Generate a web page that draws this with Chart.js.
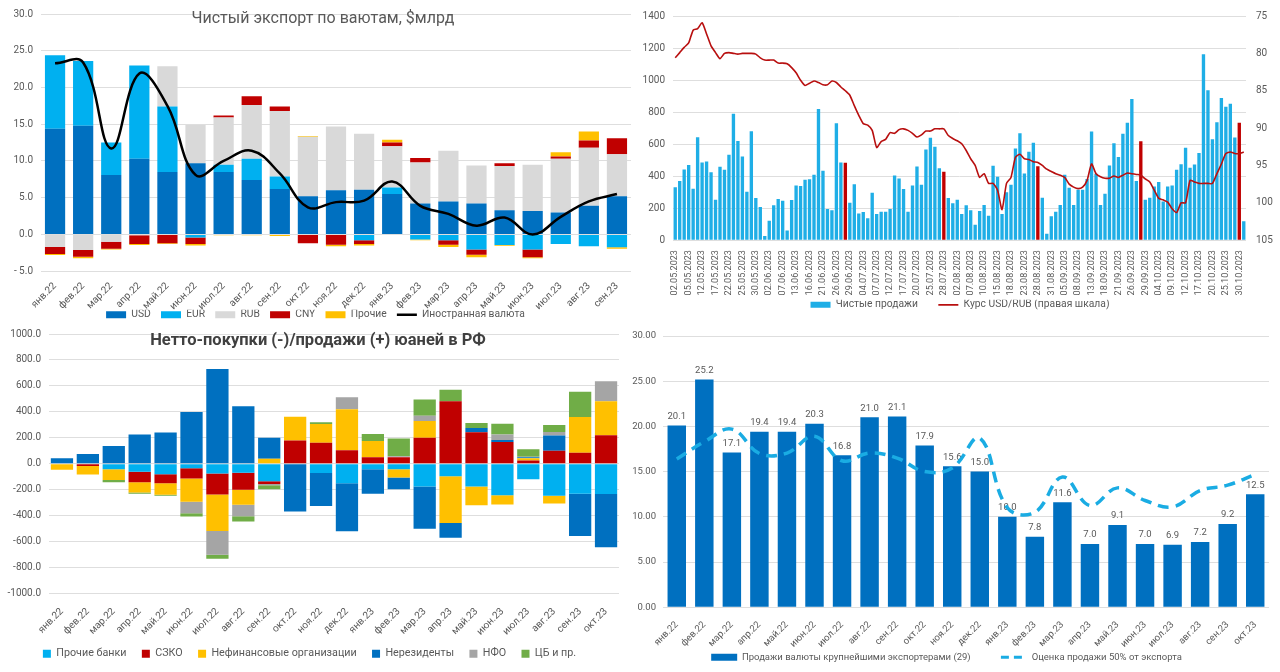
<!DOCTYPE html>
<html>
<head>
<meta charset="utf-8">
<script src="https://cdn.jsdelivr.net/npm/chart.js@4.4.0/dist/chart.umd.min.js"></script>
<style>
  body { margin: 0; background: #fff; width: 1280px; height: 672px; overflow: hidden; font-family: Roboto, sans-serif; }
  .box { position: absolute; }
  #b1 { left: 0; top: 0; width: 640px; height: 330px; }
  #b2 { left: 640px; top: 0; width: 640px; height: 320px; }
  #b3 { left: 0; top: 320px; width: 640px; height: 349px; }
  #b4 { left: 624px; top: 320px; width: 656px; height: 352px; }
  .title { position: absolute; width: 640px; text-align: center; white-space: nowrap; }
  #t1 { left: 3px; top: 8px; font-size: 16px; line-height: 20px; color: #595959; }
  #t3 { left: -2px; top: 330px; font-size: 16.5px; line-height: 20px; font-weight: bold; color: #404040; }
</style>
</head>
<body>
<div class="box" id="b1"><canvas id="c1"></canvas></div>
<div class="box" id="b2"><canvas id="c2"></canvas></div>
<div class="box" id="b3"><canvas id="c3"></canvas></div>
<div class="box" id="b4"><canvas id="c4"></canvas></div>
<div class="title" id="t1">Чистый экспорт по ваютам, $млрд</div>
<div class="title" id="t3">Нетто-покупки (-)/продажи (+) юаней в РФ</div>
<script>
// --- top left: net export by currency
const months1 = ['янв.22','фев.22','мар.22','апр.22','май.22','июн.22','июл.22','авг.22','сен.22','окт.22','ноя.22','дек.22',
  'янв.23','фев.23','мар.23','апр.23','май.23','июн.23','июл.23','авг.23','сен.23'];
const usd = [14.4, 14.8, 8.1, 10.3, 8.5, 9.7, 8.5, 7.4, 6.2, 5.2, 6.0, 6.1, 5.5, 4.2, 4.5, 4.2, 3.3, 3.2, 3.0, 3.9, 5.2];
const eur = [10.0, 8.8, 4.4, 12.7, 8.9, -0.4, 1.0, 2.9, 1.7, 0, 0, -0.8, 0.9, -0.7, -0.8, -2.05, -1.45, -2.05, -1.3, -1.6, -1.75];
const rub = [-1.7, -2.1, -1.0, -0.1, 5.5, 5.2, 6.4, 7.3, 8.9, 8.1, 8.7, 7.6, 5.6, 5.6, 6.9, 5.2, 6.0, 6.3, 7.3, 7.9, 5.7];
const cny = [-0.95, -0.95, -0.95, -1.2, -1.2, -0.9, 0.3, 1.2, 0.6, -1.2, -1.4, -0.5, 0.5, 0.6, -0.6, -0.7, 0.4, -1.05, 0.3, 1.0, 2.2];
const other = [-0.15, -0.2, -0.1, -0.15, -0.1, -0.2, -0.1, -0.1, -0.2, 0.1, -0.2, -0.2, 0.4, -0.1, -0.3, -0.35, -0.1, -0.15, 0.6, 1.2, -0.2];
const fxTotal = [23.3, 23.4, 11.7, 21.9, 17.5, 8.1, 10.0, 11.4, 8.3, 3.7, 4.4, 4.6, 7.2, 3.9, 2.8, 1.2, 2.3, 0.0, 2.4, 4.5, 5.5];

// --- top right: daily net sales and USD/RUB
const days = [
  '02.05.2023','03.05.2023','04.05.2023','05.05.2023','10.05.2023','11.05.2023','12.05.2023','15.05.2023','16.05.2023','17.05.2023',
  '18.05.2023','19.05.2023','22.05.2023','23.05.2023','24.05.2023','25.05.2023','26.05.2023','29.05.2023','30.05.2023','31.05.2023',
  '01.06.2023','02.06.2023','05.06.2023','06.06.2023','07.06.2023','08.06.2023','09.06.2023','13.06.2023','14.06.2023','15.06.2023',
  '16.06.2023','19.06.2023','20.06.2023','21.06.2023','22.06.2023','23.06.2023','26.06.2023','27.06.2023','28.06.2023','29.06.2023','30.06.2023',
  '03.07.2023','04.07.2023','05.07.2023','06.07.2023','07.07.2023','10.07.2023','11.07.2023','12.07.2023','13.07.2023','14.07.2023',
  '17.07.2023','18.07.2023','19.07.2023','20.07.2023','21.07.2023','24.07.2023','25.07.2023','26.07.2023','27.07.2023','28.07.2023','31.07.2023',
  '01.08.2023','02.08.2023','03.08.2023','04.08.2023','07.08.2023','08.08.2023','09.08.2023','10.08.2023','11.08.2023','14.08.2023',
  '15.08.2023','16.08.2023','17.08.2023','18.08.2023','21.08.2023','22.08.2023','23.08.2023','24.08.2023','25.08.2023','28.08.2023',
  '29.08.2023','30.08.2023','31.08.2023',
  '01.09.2023','04.09.2023','05.09.2023','06.09.2023','07.09.2023','08.09.2023','11.09.2023','12.09.2023','13.09.2023','14.09.2023',
  '15.09.2023','18.09.2023','19.09.2023','20.09.2023','21.09.2023','22.09.2023','25.09.2023','26.09.2023','27.09.2023','28.09.2023','29.09.2023',
  '02.10.2023','03.10.2023','04.10.2023','05.10.2023','06.10.2023','09.10.2023','10.10.2023','11.10.2023','12.10.2023','13.10.2023',
  '16.10.2023','17.10.2023','18.10.2023','19.10.2023','20.10.2023','23.10.2023','24.10.2023','25.10.2023','26.10.2023','27.10.2023',
  '30.10.2023','31.10.2023'
];
const taxDays = ['28.06.2023', '28.07.2023', '28.08.2023', '28.09.2023', '30.10.2023'];
const netSales = [
  330, 370, 442, 470, 322, 643, 485, 492, 425, 253, 458, 440, 533, 790, 620, 523, 303, 680, 263, 207,
  27, 122, 218, 257, 247, 60, 251, 342, 338, 377, 380, 408, 819, 433, 195, 187, 730, 485, 483, 234, 350,
  166, 176, 137, 297, 164, 178, 178, 195, 404, 386, 320, 178, 342, 460, 346, 566, 639, 583, 450, 427, 263,
  230, 253, 164, 218, 187, 97, 183, 220, 153, 465, 396, 164, 299, 346, 572, 668, 417, 552, 608, 462, 265, 41, 149,
  178, 220, 409, 328, 220, 315, 315, 382, 678, 415, 220, 290, 467, 606, 519, 664, 734, 881, 369, 618, 253,
  265, 336, 363, 241, 336, 342, 440, 475, 577, 452, 473, 545, 1161, 937, 630, 736, 888, 834, 852, 641, 734, 118
];
const usdRub = [
  80.6, 79.9, 79.2, 78.6, 76.9, 76.7, 75.9, 77.4, 79.0, 79.9, 80.7, 80.0, 79.9, 80.0, 80.1, 80.0, 80.0, 80.0, 80.1, 80.6,
  80.9, 80.9, 80.9, 81.3, 81.3, 81.4, 81.9, 82.6, 83.6, 84.3, 84.0, 83.7, 83.9, 84.2, 84.2, 83.7, 83.9, 84.5, 85.0, 85.6, 87.0,
  88.3, 89.4, 89.6, 90.3, 92.6, 91.8, 91.5, 90.6, 90.7, 90.2, 90.1, 90.3, 90.7, 91.2, 90.9, 90.4, 90.4, 90.1, 90.1, 90.1, 91.0,
  91.4, 91.7, 92.1, 93.0, 94.1, 95.0, 96.6, 96.1, 97.4, 97.4, 98.3, 100.9, 97.4, 96.6, 93.9, 93.5, 94.1, 94.2, 94.5, 94.6, 95.0, 95.5, 95.8,
  96.1, 96.3, 96.6, 97.5, 97.9, 98.1, 97.9, 97.0, 94.8, 96.1, 96.5, 96.7, 96.7, 96.4, 96.6, 96.3, 96.0, 96.1, 96.2, 96.3, 96.8,
  97.2, 98.3, 99.4, 99.6, 99.9, 100.8, 101.3, 100.0, 100.0, 97.0, 97.2, 97.4, 97.4, 97.4, 97.4, 96.1, 94.8, 93.4, 93.2, 93.4, 93.4, 93.2
];

// --- bottom left: yuan net purchases/sales
const months2 = ['янв.22','фев.22','мар.22','апр.22','май.22','июн.22','июл.22','авг.22','сен.22','окт.22','ноя.22','дек.22',
  'янв.23','фев.23','мар.23','апр.23','май.23','июн.23','июл.23','авг.23','сен.23','окт.23'];
const otherBanks = [0, 0, -42, -62, -80, -35, -75, -68, -135, 0, -70, -150, -42, -42, -175, -95, -175, -243, -118, -245, -230, -232];
const szko = [0, -17, 0, -80, -70, -78, -162, -132, -20, 180, 162, 105, 50, 50, 200, 482, 243, 168, 25, 100, 85, 220];
const nonFin = [-45, -65, -83, -78, -88, -180, -280, -115, 40, 183, 145, 315, 125, -63, 130, -360, -145, -70, 18, -60, 275, 262];
const nonRes = [42, 75, 137, 225, 242, 400, 730, 443, 160, -367, -255, -370, -188, -90, -325, -115, 32, 15, 7, 118, -325, -410];
const nfo = [0, 0, 0, 0, 0, -88, -183, -88, -10, 0, 0, 92, 0, 8, 40, 0, 0, 42, 5, 27, 0, 155];
const cbr = [0, 0, -17, -10, -8, -25, -32, -42, -30, 0, 13, 0, 55, 137, 125, 88, 40, 83, 57, 55, 195, 0];

// --- bottom right: exporters' FX sales
const exporterSales = [20.1, 25.2, 17.1, 19.4, 19.4, 20.3, 16.8, 21.0, 21.1, 17.9, 15.6, 15.0, 10.0, 7.8, 11.6, 7.0, 9.1, 7.0, 6.9, 7.2, 9.2, 12.5];
const halfExport = [16.4, 18.3, 19.7, 17.0, 17.05, 18.9, 16.2, 17.05, 16.5, 15.0, 15.4, 18.7, 11.0, 10.5, 14.4, 11.25, 13.2, 11.8, 11.1, 12.9, 13.5, 14.7];

Chart.defaults.font.family = 'Roboto, sans-serif';
Chart.defaults.font.size = 10;
Chart.defaults.color = '#595959';
Chart.defaults.animation = false;
Chart.defaults.maintainAspectRatio = false;
Chart.defaults.plugins.tooltip.enabled = false;

const gridColor = '#DEDEDE';

// legend items in dataset order, spaced apart with trailing blanks
function spacedLabels(gap, tweak) {
  return chart => {
    const items = Chart.defaults.plugins.legend.labels.generateLabels(chart)
      .sort((a, b) => a.datasetIndex - b.datasetIndex);
    items.forEach((it, i) => {
      if (i < items.length - 1) it.text += ' '.repeat(gap);
      if (tweak) tweak(it);
    });
    return items;
  };
}

function yAxis(min, max, step, width, fmt, extra) {
  return Object.assign({
    min: min, max: max,
    border: { display: false },
    grid: { color: gridColor, drawTicks: false },
    ticks: { stepSize: step, padding: 8, callback: fmt },
    afterFit: s => { s.width = width; }
  }, extra || {});
}

// top left
new Chart(document.getElementById('c1'), {
  type: 'bar',
  data: {
    labels: months1,
    datasets: [
      { label: 'USD', data: usd, backgroundColor: '#0070C0', pointStyle: 'rect', order: 1 },
      { label: 'EUR', data: eur, backgroundColor: '#00B0F0', pointStyle: 'rect', order: 1 },
      { label: 'RUB', data: rub, backgroundColor: '#D9D9D9', pointStyle: 'rect', order: 1 },
      { label: 'CNY', data: cny, backgroundColor: '#C00000', pointStyle: 'rect', order: 1 },
      { label: 'Прочие', data: other, backgroundColor: '#FFC000', pointStyle: 'rect', order: 1 },
      { type: 'line', label: 'Иностранная валюта', data: fxTotal, borderColor: '#000', backgroundColor: '#000',
        borderWidth: 2.5, tension: 0.4, pointRadius: 0, pointStyle: 'line', order: 0 }
    ]
  },
  options: {
    layout: { padding: { top: 6, right: 9, left: 0, bottom: 0 } },
    datasets: { bar: { categoryPercentage: 1, barPercentage: 0.72 } },
    scales: {
      x: { stacked: true, grid: { display: false }, border: { display: false },
        ticks: { minRotation: 45, maxRotation: 45, autoSkip: false, padding: 1 },
        afterFit: s => { s.height = 38.5; } },
      y: yAxis(-5, 30, 5, 41, v => v < 0 ? '- ' + Math.abs(v).toFixed(1) : v.toFixed(1), { stacked: true })
    },
    plugins: {
      legend: { position: 'bottom', labels: { usePointStyle: true, pointStyleWidth: 20, boxHeight: 7,
        padding: 0, font: { size: 10.3 }, generateLabels: spacedLabels(4) } }
    }
  }
});

// top right
new Chart(document.getElementById('c2'), {
  type: 'bar',
  data: {
    labels: days,
    datasets: [
      { label: 'Чистые продажи', data: netSales, yAxisID: 'y', order: 1, pointStyle: 'rect',
        backgroundColor: c => taxDays.includes(days[c.dataIndex]) ? '#C00000' : '#1FAEE6' },
      { type: 'line', label: 'Курс USD/RUB (правая шкала)', data: usdRub, yAxisID: 'y1', order: 0,
        borderColor: '#B80F0F', backgroundColor: '#B80F0F', borderWidth: 1.6, tension: 0.2,
        pointRadius: 0, pointStyle: 'line' }
    ]
  },
  options: {
    layout: { padding: { top: 15, right: 0, left: 0, bottom: 0 } },
    datasets: { bar: { categoryPercentage: 1, barPercentage: 0.75 } },
    scales: {
      x: { grid: { display: false }, border: { display: false },
        ticks: { minRotation: 90, maxRotation: 90, autoSkip: false, padding: 2, font: { size: 9 },
          callback: function (v, i) { return i % 3 === 0 ? this.getLabelForValue(v) : ''; } },
        afterFit: s => { s.height = 59.5; } },
      y: yAxis(0, 1400, 200, 33, v => v),
      y1: yAxis(75, 105, 5, 34, v => v, { position: 'right', reverse: true, grid: { display: false, drawTicks: false },
        ticks: { stepSize: 5, padding: 10, callback: v => v } })
    },
    plugins: {
      legend: { position: 'bottom', labels: { usePointStyle: true, pointStyleWidth: 20, boxHeight: 6,
        padding: 0, font: { size: 10.3 }, generateLabels: spacedLabels(8) } }
    }
  }
});

// bottom left
new Chart(document.getElementById('c3'), {
  type: 'bar',
  data: {
    labels: months2,
    datasets: [
      { label: 'Прочие банки', data: otherBanks, backgroundColor: '#00B0F0' },
      { label: 'СЗКО', data: szko, backgroundColor: '#C00000' },
      { label: 'Нефинансовые организации', data: nonFin, backgroundColor: '#FFC000' },
      { label: 'Нерезиденты', data: nonRes, backgroundColor: '#0070C0' },
      { label: 'НФО', data: nfo, backgroundColor: '#A5A5A5' },
      { label: 'ЦБ и пр.', data: cbr, backgroundColor: '#70AD47' }
    ]
  },
  options: {
    layout: { padding: { top: 7, right: 21, left: 0, bottom: 0 } },
    datasets: { bar: { categoryPercentage: 1, barPercentage: 0.86 } },
    scales: {
      x: { stacked: true, grid: { display: false }, border: { display: false },
        ticks: { minRotation: 45, maxRotation: 45, autoSkip: false, padding: 4 },
        afterFit: s => { s.height = 52.6; } },
      y: yAxis(-1000, 1000, 200, 49, v => v.toFixed(1), { stacked: true })
    },
    plugins: {
      legend: { position: 'bottom', labels: { boxWidth: 8, boxHeight: 8, padding: 2, font: { size: 10.75 },
        generateLabels: spacedLabels(5) } }
    }
  }
});

// bottom right
const barValueLabels = {
  id: 'barValueLabels',
  afterDatasetDraw(chart, args) {
    if (args.index !== 0) return;
    const ctx = chart.ctx;
    const values = chart.data.datasets[0].data;
    ctx.save();
    ctx.font = '9.5px Roboto, sans-serif';
    ctx.fillStyle = '#595959';
    ctx.textAlign = 'center';
    ctx.textBaseline = 'middle';
    args.meta.data.forEach((bar, i) => ctx.fillText(values[i].toFixed(1), bar.x, bar.y - 9));
    ctx.restore();
  }
};

new Chart(document.getElementById('c4'), {
  type: 'bar',
  data: {
    labels: months2,
    datasets: [
      { label: 'Продажи валюты крупнейшими экспортерами (29)', data: exporterSales, backgroundColor: '#0070C0',
        pointStyle: 'rect', order: 1 },
      { type: 'line', label: 'Оценка продажи 50% от экспорта', data: halfExport, borderColor: '#1AACE3',
        backgroundColor: '#1AACE3', borderWidth: 3.5, borderDash: [11, 7], tension: 0.4, pointRadius: 0,
        pointStyle: 'line', order: 0 }
    ]
  },
  plugins: [barValueLabels],
  options: {
    layout: { padding: { top: 16, right: 11, left: 0, bottom: 0 } },
    datasets: { bar: { categoryPercentage: 1, barPercentage: 0.67 } },
    scales: {
      x: { grid: { display: false }, border: { display: false },
        ticks: { minRotation: 45, maxRotation: 45, autoSkip: false, padding: 4, font: { size: 9.5 } },
        afterFit: s => { s.height = 43.3; } },
      y: yAxis(0, 30, 5, 39, v => v.toFixed(2), { ticks: { stepSize: 5, padding: 7, font: { size: 9.5 }, callback: v => v.toFixed(2) } })
    },
    plugins: {
      legend: { position: 'bottom', labels: { usePointStyle: true, pointStyleWidth: 26, boxHeight: 7,
        padding: 2, font: { size: 9.5 },
        generateLabels: spacedLabels(12, it => {
          if (it.datasetIndex === 1) { it.lineDash = [8, 5]; it.lineWidth = 3; }
        }) } }
    }
  }
});
</script>
</body>
</html>
